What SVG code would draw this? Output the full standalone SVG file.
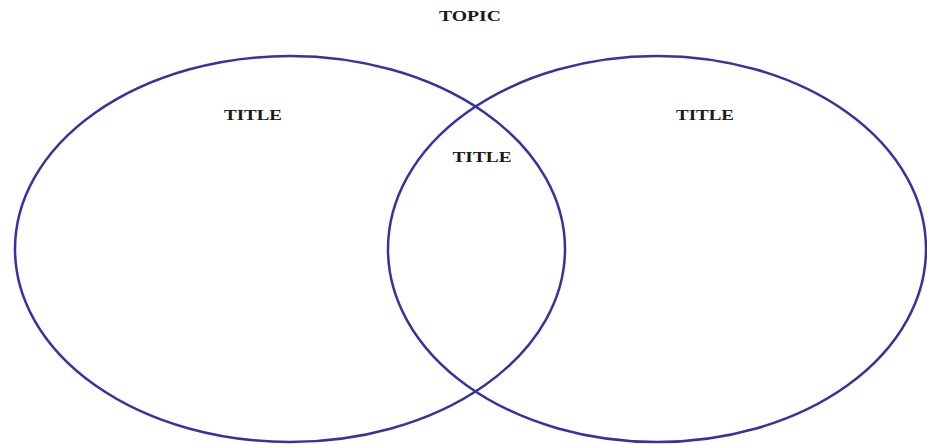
<svg xmlns="http://www.w3.org/2000/svg" width="927" height="444" viewBox="0 0 927 444">
<style>
.c{fill:none;stroke:#3434a0;stroke-width:2.5}
.t{font-family:"Liberation Serif","Times New Roman",serif;font-weight:bold;font-size:15px;fill:#1a1a1a;text-anchor:middle}
</style>
<rect width="927" height="444" fill="#ffffff"/>
<g id="topic"><text class="t" x="470" y="21" textLength="62" lengthAdjust="spacingAndGlyphs">TOPIC</text></g>
<g id="left"><ellipse class="c" cx="290" cy="249" rx="275" ry="193"/><text class="t" x="253" y="120" textLength="58" lengthAdjust="spacingAndGlyphs">TITLE</text></g>
<g id="right"><ellipse class="c" cx="657" cy="249" rx="269" ry="193"/><text class="t" x="705" y="120" textLength="58" lengthAdjust="spacingAndGlyphs">TITLE</text></g>
<g id="middle"><text class="t" x="482" y="162" textLength="59" lengthAdjust="spacingAndGlyphs">TITLE</text></g>
<g id="connectors"></g>
</svg>
